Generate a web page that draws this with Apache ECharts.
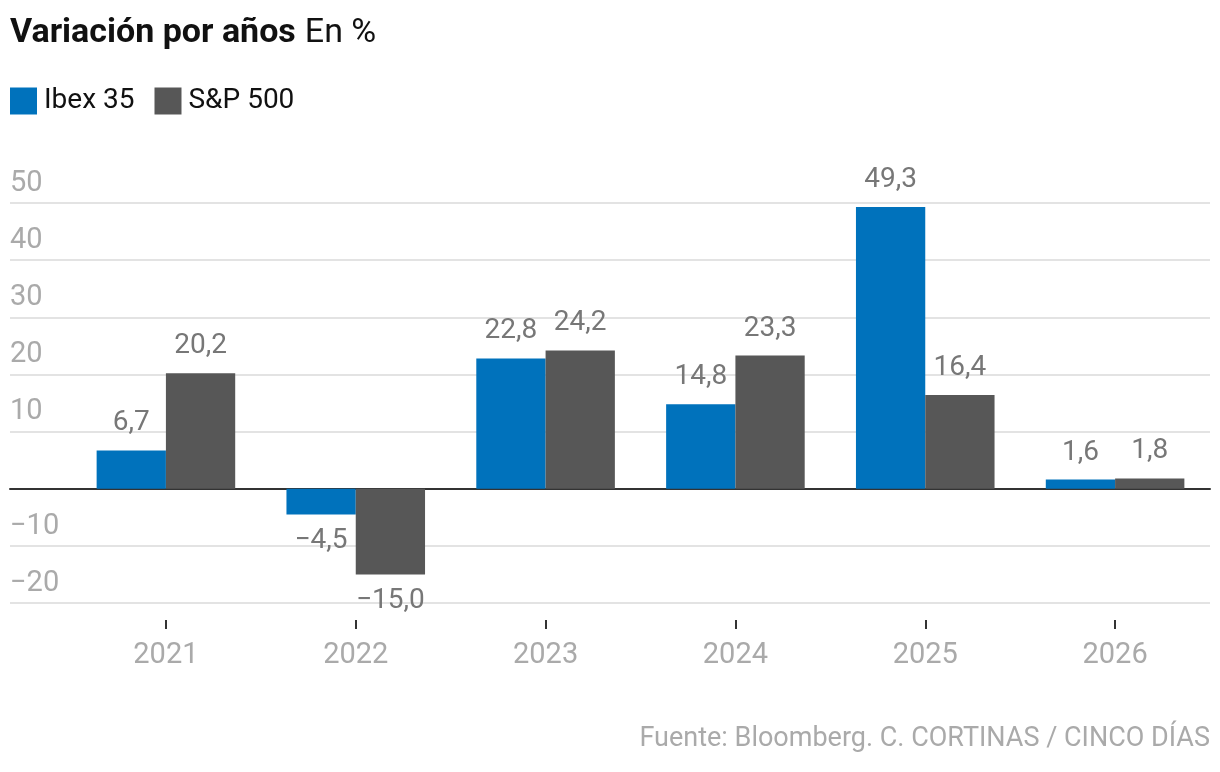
<!DOCTYPE html>
<html><head><meta charset="utf-8">
<script src="https://cdn.jsdelivr.net/npm/echarts@6/dist/echarts.min.js"></script>
<style>html,body{margin:0;padding:0;background:#fff}#c{width:1220px;height:772px}</style>
</head><body><div id="c"></div>
<script>
const categories = ['2021','2022','2023','2024','2025','2026'];
const ibex = [6.7, -4.5, 22.8, 14.8, 49.3, 1.6];
const sp500 = [20.2, -15.0, 24.2, 23.3, 16.4, 1.8];
const seriesNames = ['Ibex 35', 'S&P 500'];
const yTicks = [-20, -10, 0, 10, 20, 30, 40, 50];

const FONT = '"Roboto", sans-serif';
const fmt = v => (v < 0 ? '\u2212' : '') + Math.abs(v).toFixed(1).replace('.', ',');
const fmtTick = v => v === 0 ? '' : (v < 0 ? '\u2212' : '') + Math.abs(v);

const chart = echarts.init(document.getElementById('c'), null, {renderer: 'canvas'});
const labelCommon = {show: true, fontFamily: FONT, fontSize: 28, color: '#777', distance: 13,
  formatter: p => fmt(p.value)};
function mkData(arr) {
  return arr.map(v => ({value: v, label: {position: v < 0 ? 'bottom' : 'top'}}));
}
chart.setOption({
  animation: false,
  textStyle: {fontFamily: FONT},
  title: {
    left: 10, top: 16, padding: 0,
    text: '{b|Variación por años}{r|En %}',
    textStyle: {fontWeight: 'normal', rich: {
      b: {fontFamily: FONT, fontWeight: 'bold', fontSize: 34, color: '#111'},
      r: {fontFamily: FONT, fontWeight: 'normal', fontSize: 34, color: '#111', padding: [0, 0, 0, 9]}
    }}
  },
  legend: {
    left: 10, top: 87, padding: 0, icon: 'rect', itemWidth: 27, itemHeight: 27, itemGap: 20,
    textStyle: {fontFamily: FONT, fontSize: 28, color: '#111', padding: [0, 0, 0, 2]},
    data: seriesNames
  },
  graphic: [{
    type: 'text', right: 10, top: 726,
    style: {text: 'Fuente: Bloomberg. C. CORTINAS / CINCO DÍAS', font: '27px ' + FONT, fill: '#aaa'}
  }],
  grid: [
    {left: 10, right: 10, top: 203, bottom: 169},
    {left: 71, right: 10, top: 203, bottom: 169}
  ],
  xAxis: [
    {gridIndex: 0, type: 'value', min: 0, max: 1, show: true,
     axisLine: {show: true, onZero: true, lineStyle: {color: '#333', width: 2}},
     axisTick: {show: false}, axisLabel: {show: false}, splitLine: {show: false}},
    {gridIndex: 1, type: 'category', data: categories, offset: 17,
     axisLine: {show: false, onZero: false},
     axisTick: {show: true, alignWithLabel: true, length: 9, lineStyle: {color: '#333', width: 2}},
     axisLabel: {fontFamily: FONT, fontSize: 29, color: '#aaa', margin: 21}}
  ],
  yAxis: [
    {gridIndex: 0, type: 'value', min: -20, max: 50, interval: 10,
     axisLine: {show: false}, axisTick: {show: false},
     axisLabel: {inside: true, margin: 0, verticalAlign: 'bottom', padding: [0, 0, 5, 0],
       fontFamily: FONT, fontSize: 29, color: '#aaa', formatter: fmtTick},
     splitLine: {lineStyle: {color: '#e3e3e3', width: 2}}},
    {gridIndex: 1, type: 'value', min: -20, max: 50, interval: 10, show: false,
     splitLine: {show: false}}
  ],
  series: [
    {name: seriesNames[0], type: 'bar', xAxisIndex: 1, yAxisIndex: 1, data: mkData(ibex),
     itemStyle: {color: '#0072bc'}, barGap: '0%', barCategoryGap: '27%', label: labelCommon},
    {name: seriesNames[1], type: 'bar', xAxisIndex: 1, yAxisIndex: 1, data: mkData(sp500),
     itemStyle: {color: '#575757'}, barGap: '0%', barCategoryGap: '27%', label: labelCommon}
  ]
});
</script></body></html>
